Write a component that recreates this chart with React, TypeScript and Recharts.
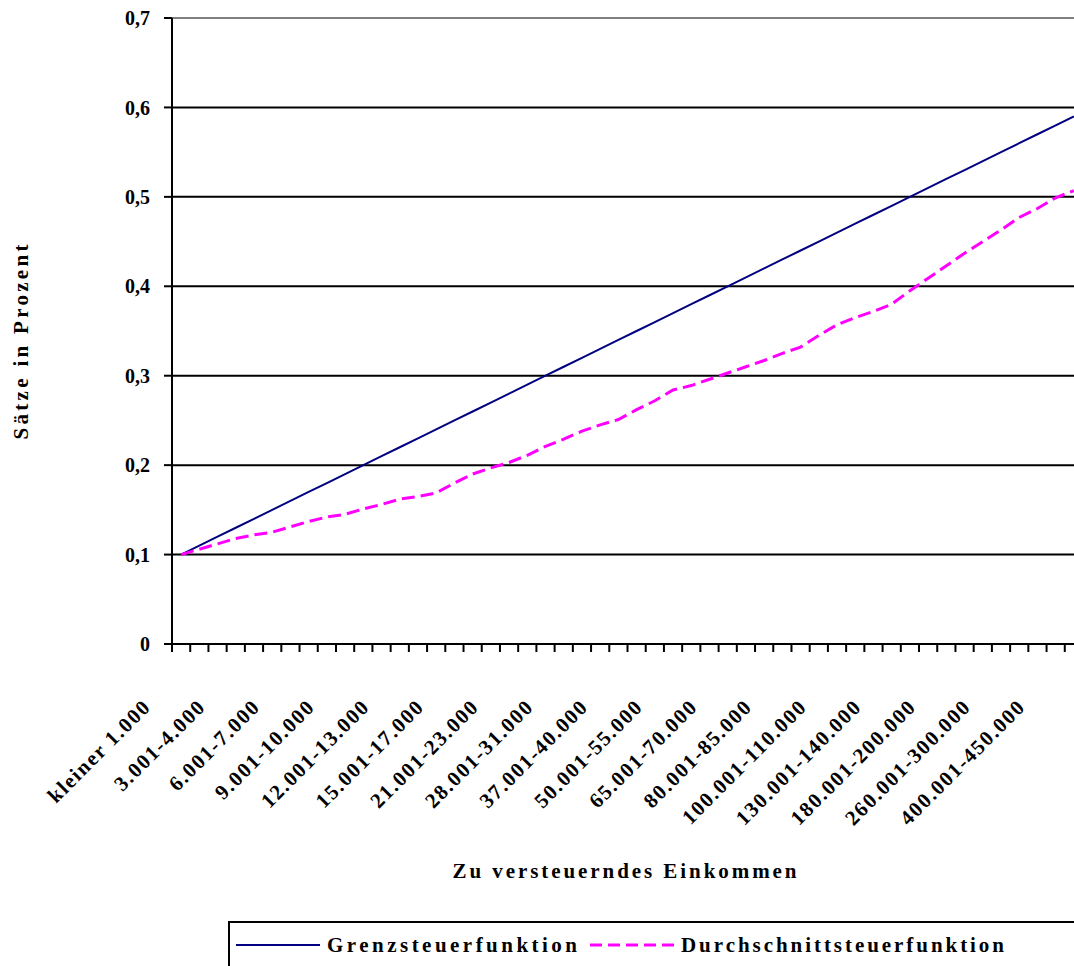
import React from "react";
import {
  LineChart,
  Line,
  XAxis,
  YAxis,
  CartesianGrid,
  ReferenceLine,
  Legend,
} from "recharts";

// Einkommensklassen (zu versteuerndes Einkommen)
const brackets = [
  "kleiner 1.000",
  "1.001-2.000",
  "2.001-3.000",
  "3.001-4.000",
  "4.001-5.000",
  "5.001-6.000",
  "6.001-7.000",
  "7.001-8.000",
  "8.001-9.000",
  "9.001-10.000",
  "10.001-11.000",
  "11.001-12.000",
  "12.001-13.000",
  "13.001-14.000",
  "14.001-15.000",
  "15.001-17.000",
  "17.001-19.000",
  "19.001-21.000",
  "21.001-23.000",
  "23.001-25.000",
  "25.001-28.000",
  "28.001-31.000",
  "31.001-34.000",
  "34.001-37.000",
  "37.001-40.000",
  "40.001-45.000",
  "45.001-50.000",
  "50.001-55.000",
  "55.001-60.000",
  "60.001-65.000",
  "65.001-70.000",
  "70.001-75.000",
  "75.001-80.000",
  "80.001-85.000",
  "85.001-90.000",
  "90.001-100.000",
  "100.001-110.000",
  "110.001-120.000",
  "120.001-130.000",
  "130.001-140.000",
  "140.001-160.000",
  "160.001-180.000",
  "180.001-200.000",
  "200.001-230.000",
  "230.001-260.000",
  "260.001-300.000",
  "300.001-350.000",
  "350.001-400.000",
  "400.001-450.000",
  "450.001-500.000",
];

const seriesNames = ["Grenzsteuerfunktion", "Durchschnittsteuerfunktion"];

const grenzsteuer = [
  0.1, 0.11, 0.12, 0.13, 0.14, 0.15, 0.16, 0.17, 0.18, 0.19,
  0.2, 0.21, 0.22, 0.23, 0.24, 0.25, 0.26, 0.27, 0.28, 0.29,
  0.3, 0.31, 0.32, 0.33, 0.34, 0.35, 0.36, 0.37, 0.38, 0.39,
  0.4, 0.41, 0.42, 0.43, 0.44, 0.45, 0.46, 0.47, 0.48, 0.49,
  0.5, 0.51, 0.52, 0.53, 0.54, 0.55, 0.56, 0.57, 0.58, 0.59,
];

const durchschnittsteuer = [
  0.1, 0.106, 0.112, 0.118, 0.122, 0.125, 0.131, 0.137, 0.142, 0.145,
  0.151, 0.156, 0.162, 0.165, 0.169, 0.18, 0.19, 0.197, 0.203, 0.211,
  0.221, 0.229, 0.238, 0.245, 0.251, 0.262, 0.272, 0.284, 0.289, 0.296,
  0.303, 0.31, 0.317, 0.325, 0.332, 0.345, 0.357, 0.365, 0.372, 0.38,
  0.395, 0.409, 0.423, 0.437, 0.45, 0.463, 0.477, 0.487, 0.499, 0.507,
];

const yTicks = [0, 0.1, 0.2, 0.3, 0.4, 0.5, 0.6, 0.7];

const data = brackets.map((bracket, i) => ({
  bracket,
  grenz: grenzsteuer[i],
  durch: durchschnittsteuer[i],
}));

const FONT = '"Liberation Serif", "Times New Roman", Times, serif';
const CHART_W = 1083;
const CHART_H = 966;
const Y_AXIS_W = 172;
const HALF_BAND = (CHART_W - Y_AXIS_W) / brackets.length / 2;

const formatRate = (v: number) => (v === 0 ? "0" : v.toFixed(1).replace(".", ","));

// category tick: a mark on every class boundary, a slanted label on every third class
function BracketTick(props: any) {
  const { x, y, payload, index } = props;
  const axisY = y - 8;
  const left = x - HALF_BAND;
  const lx = x - 29;
  const ly = axisY + 64;
  return (
    <g>
      <line x1={left} y1={axisY} x2={left} y2={axisY + 8} stroke="#000" strokeWidth={2} />
      {index % 3 === 0 && (
        <text
          x={lx}
          y={ly}
          transform={`rotate(-45, ${lx}, ${ly})`}
          textAnchor="end"
          fontFamily={FONT}
          fontWeight="bold"
          fontSize={21}
          letterSpacing={1.6}
          fill="#000"
        >
          {payload.value}
        </text>
      )}
    </g>
  );
}

function XTitle(props: any) {
  const { viewBox } = props;
  const cx = viewBox.x + viewBox.width / 2;
  return (
    <text
      x={cx - 3}
      y={viewBox.y + 234}
      textAnchor="middle"
      textLength={344}
      lengthAdjust="spacing"
      fontFamily={FONT}
      fontWeight="bold"
      fontSize={21}
      fill="#000"
    >
      Zu versteuerndes Einkommen
    </text>
  );
}

function YTitle(props: any) {
  const { viewBox } = props;
  const cx = 28;
  const cy = viewBox.y + viewBox.height / 2 + 11;
  return (
    <text
      x={cx}
      y={cy}
      transform={`rotate(-90, ${cx}, ${cy})`}
      textAnchor="middle"
      textLength={195}
      lengthAdjust="spacing"
      fontFamily={FONT}
      fontWeight="bold"
      fontSize={21}
      fill="#000"
    >
      Sätze in Prozent
    </text>
  );
}

const LEGEND_TEXT_W = [250, 323];

function LegendBox(props: any) {
  const items = [...(props.payload || [])].sort(
    (a: any, b: any) => seriesNames.indexOf(a.value) - seriesNames.indexOf(b.value)
  );
  let cursor = 8;
  return (
    <svg width={860} height={50} style={{ display: "block", overflow: "visible" }}>
      <rect x={1} y={1} width={900} height={70} fill="#fff" stroke="#000" strokeWidth={2} />
      {items.map((entry: any, i: number) => {
        const x0 = cursor;
        const textX = x0 + 91;
        cursor = textX + LEGEND_TEXT_W[i] + 13;
        return (
          <g key={entry.value}>
            <line
              x1={x0}
              y1={24}
              x2={x0 + 84}
              y2={24}
              stroke={entry.color}
              strokeWidth={i === 0 ? 2 : 3}
              strokeDasharray={i === 0 ? undefined : "12 6"}
            />
            <text
              x={textX}
              y={31}
              textLength={LEGEND_TEXT_W[i]}
              lengthAdjust="spacing"
              fontFamily={FONT}
              fontWeight="bold"
              fontSize={21}
              fill="#000"
            >
              {entry.value}
            </text>
          </g>
        );
      })}
    </svg>
  );
}

export default function App() {
  return (
    <div
      style={{
        position: "absolute",
        left: 0,
        top: 0,
        width: 1074,
        height: 966,
        overflow: "hidden",
        background: "#fff",
      }}
    >
      <LineChart
        width={CHART_W}
        height={CHART_H}
        data={data}
        margin={{ top: 18, right: 0, bottom: 0, left: 0 }}
      >
        <CartesianGrid vertical={false} stroke="#000" strokeWidth={2} />
        <ReferenceLine y={0.7} stroke="#808080" strokeWidth={2} />
        <XAxis
          dataKey="bracket"
          interval={0}
          padding={{ left: HALF_BAND, right: HALF_BAND }}
          height={272}
          axisLine={{ stroke: "#000", strokeWidth: 2 }}
          tickLine={false}
          tickSize={8}
          tickMargin={0}
          tick={<BracketTick />}
          label={{ content: <XTitle /> }}
        />
        <YAxis
          width={Y_AXIS_W}
          domain={[0, 0.7]}
          ticks={yTicks}
          tickFormatter={formatRate}
          axisLine={{ stroke: "#000", strokeWidth: 2 }}
          tickLine={{ stroke: "#000", strokeWidth: 2 }}
          tickSize={8}
          tickMargin={14}
          tick={{ fill: "#000", fontSize: 20, fontWeight: "bold", fontFamily: FONT }}
          label={{ content: <YTitle /> }}
        />
        <Legend
          verticalAlign="bottom"
          content={<LegendBox />}
          wrapperStyle={{ position: "absolute", left: 228, top: 921, width: 860, height: 50 }}
        />
        <Line
          name={seriesNames[0]}
          dataKey="grenz"
          stroke="#000080"
          strokeWidth={2}
          dot={false}
          isAnimationActive={false}
        />
        <Line
          name={seriesNames[1]}
          dataKey="durch"
          stroke="#FF00FF"
          strokeWidth={3}
          strokeDasharray="13 6"
          dot={false}
          isAnimationActive={false}
        />
      </LineChart>
    </div>
  );
}
